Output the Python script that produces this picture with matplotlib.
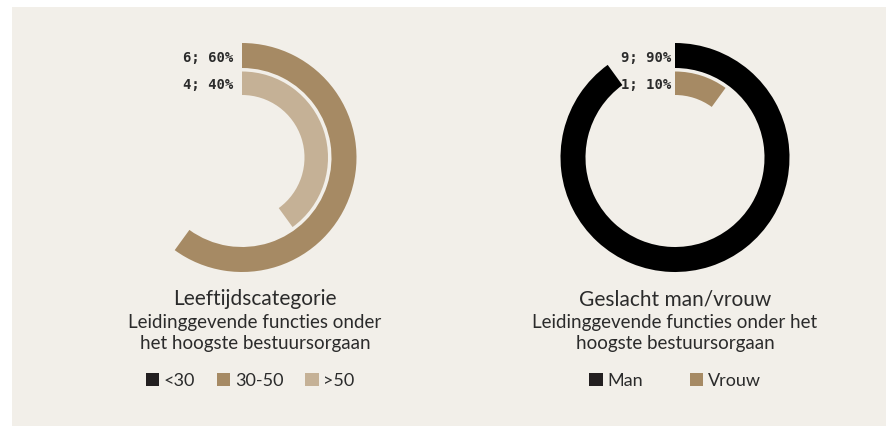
import numpy as np
import matplotlib.pyplot as plt
from matplotlib.patches import Patch, Rectangle

# data
age_labels = ["<30", "30-50", ">50"]
age_counts = [0, 6, 4]
age_pct = [0, 60, 40]
gender_labels = ["Man", "Vrouw"]
gender_counts = [9, 1]
gender_pct = [90, 10]

BG = "#f2efe9"
DARK = "#231f20"
BROWN = "#a68a64"
LIGHT = "#c5b196"
TXT = "#2b2b2b"

W, H = 887, 426
fig = plt.figure(figsize=(W / 100, H / 100), dpi=100, facecolor="white")
fig.patches.append(Rectangle((12 / W, 0), 1, (H - 7) / H, transform=fig.transFigure,
                             facecolor=BG, edgecolor="none", zorder=-10))

R = 120  # axes half size, px
rings = [(89.5, 114.5), (62.5, 86.0)]  # outer, inner (inner radius, outer radius)


def ring_chart(cx, cy, pcts, counts, colors, gap):
    ax = fig.add_axes([(cx - R) / W, (H - cy - R) / H, 2 * R / W, 2 * R / H],
                      projection="polar")
    ax.set_theta_zero_location("N")
    ax.set_theta_direction(-1)
    ax.set_ylim(0, R)
    ax.axis("off")
    ax.patch.set_alpha(0)
    for (r0, r1), p, c, col in zip(rings, pcts, counts, colors):
        th = np.deg2rad(p * 3.6)
        ax.bar(th / 2, r1 - r0, width=th, bottom=r0, color=col, edgecolor="none")
        ax.annotate(f"{c}; {p}%", xy=(0, (r0 + r1) / 2), xytext=(-gap, -2),
                    textcoords="offset pixels", ha="right", va="center",
                    fontsize=10, family="DejaVu Sans Mono", fontweight="bold",
                    color=TXT)
    return ax


ring_chart(242, 157.5, age_pct[1:], age_counts[1:], [BROWN, LIGHT], 9)
ring_chart(675, 157.5, gender_pct, gender_counts, ["#000000", BROWN], 4)


def captions(cx, title, sub, lx, labels, colors, colsp):
    fig.text(cx / W, 1 - 299 / H, title, ha="center", va="center",
             fontsize=15, family="Lato", color=TXT)
    fig.text(cx / W, 1 - 333 / H, sub, ha="center", va="center",
             fontsize=13.5, family="Lato", color=TXT, linespacing=1.22)
    handles = [Patch(facecolor=c, edgecolor="none") for c in colors]
    fig.legend(handles, labels, loc="center", bbox_to_anchor=(lx / W, 1 - 381 / H),
               ncol=len(labels), frameon=False, handlelength=0.75, handleheight=0.75,
               handletextpad=0.25, columnspacing=colsp,
               prop={"family": "Lato", "size": 13}, labelcolor=TXT)


captions(255, "Leeftijdscategorie",
         "Leidinggevende functies onder\nhet hoogste bestuursorgaan",
         250, age_labels, [DARK, BROWN, LIGHT], 1.2)
captions(675, "Geslacht man/vrouw",
         "Leidinggevende functies onder het\nhoogste bestuursorgaan",
         675, gender_labels, [DARK, BROWN], 2.6)

fig.savefig("out.png", dpi=100, facecolor="white")
